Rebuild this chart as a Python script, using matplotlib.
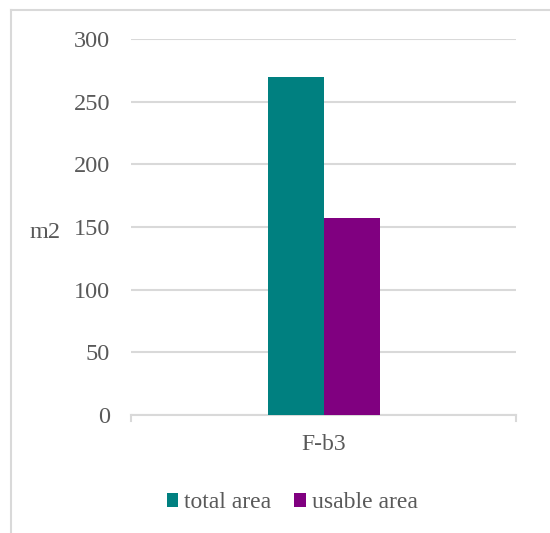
import matplotlib
matplotlib.use("Agg")
import matplotlib.pyplot as plt
from matplotlib.lines import Line2D
from matplotlib.patches import Patch

categories = ["F-b3"]
series_names = ["total area", "usable area"]
total_area = [270]
usable_area = [157]
colors = ["#008080", "#800080"]
yticks = [0, 50, 100, 150, 200, 250, 300]

plt.rcParams['font.family'] = ['Liberation Serif', 'DejaVu Serif']
W, H = 550, 533
fig = plt.figure(figsize=(W / 100, H / 100), dpi=100)
ax = fig.add_axes([131 / W, (H - 415) / H, (516 - 131) / W, (415 - 39) / H])

bw = 56 / 385
x = list(range(len(categories)))
ax.bar([xi - bw / 2 for xi in x], total_area, width=bw, color=colors[0], zorder=3)
ax.bar([xi + bw / 2 for xi in x], usable_area, width=bw, color=colors[1], zorder=3)

ax.set_xlim(-0.5, 0.5)
ax.set_ylim(0, 300)
ax.set_yticks(yticks)
ax.set_yticklabels([str(v) for v in yticks])
ax.set_xticks(x)
ax.set_xticklabels(categories)
ax.yaxis.grid(True, color="#d9d9d9", linewidth=1.5, zorder=0)
for s in ["top", "right", "left"]:
    ax.spines[s].set_visible(False)
ax.spines["bottom"].set_color("#d9d9d9")
ax.spines["bottom"].set_linewidth(1.5)
ax.tick_params(axis="y", length=0, pad=15, labelsize=17.5, labelcolor="#595959")
ax.tick_params(axis="x", length=0, pad=14, labelsize=17, labelcolor="#595959")
# end tick marks of category axis
for xe in [-0.5, 0.5]:
    ax.plot([xe, xe], [0, -0.015], transform=ax.get_xaxis_transform(),
            color="#d9d9d9", lw=1.5, clip_on=False, zorder=4)

fig.text(45 / W, 1 - 232 / H, "m2", ha="center", va="center", fontsize=17.5, color="#595959")

handles = [Patch(facecolor=c, edgecolor="none") for c in colors]
leg = fig.legend(handles, series_names, loc="center", bbox_to_anchor=(292 / W, 1 - 503 / H),
                 ncol=2, frameon=False, fontsize=17, handlelength=0.5, handleheight=0.5,
                 handletextpad=0.25, columnspacing=0.95, labelcolor="#595959")

# outer chart border (left and top visible)
fig.add_artist(Line2D([11 / W, 11 / W], [0, 1 - 10 / H], transform=fig.transFigure,
                      color="#d9d9d9", lw=1.5))
fig.add_artist(Line2D([11 / W, 1], [1 - 10 / H, 1 - 10 / H], transform=fig.transFigure,
                      color="#d9d9d9", lw=1.5))

fig.savefig("out.png", dpi=100)
